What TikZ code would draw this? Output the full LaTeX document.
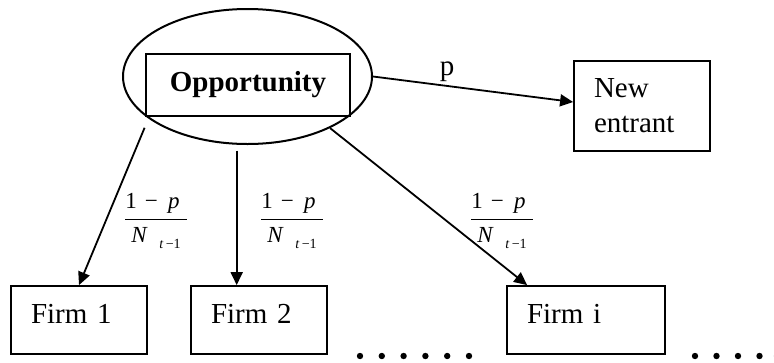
\documentclass[tikz,border=0pt]{standalone}
\usepackage{amsmath}
\usepackage{fontspec}
\setmainfont{Liberation Serif}
\usetikzlibrary{arrows.meta,calc,positioning,shapes.geometric}
\newcommand{\fracshare}{$\dfrac{\text{1\hspace{0.35em}−\hspace{0.45em}\textit{p}\hspace{0.3em}}}{\text{\textit{N}\hspace{0.5em}\raisebox{-0.25em}{\fontsize{14}{14}\selectfont\textit{t}\,−1}}}$}

\begin{document}
\begin{tikzpicture}[
    x=1pt,y=-1pt,
    >={Triangle[length=13pt,width=12pt]},
    font=\fontsize{29}{35}\selectfont,
    chance/.style={
      ellipse,draw,line width=2pt,inner sep=0pt,
      minimum width=249pt,minimum height=135pt
    },
    title/.style={
      rectangle,draw,line width=1.8pt,
      minimum width=204pt,minimum height=62pt,font=\fontsize{29}{35}\selectfont\bfseries
    },
    firm/.style={
      rectangle,draw,line width=1.8pt,inner xsep=20pt,align=left,
      minimum height=68pt,text height=20pt,text depth=13pt
    },
    entry/.style={
      rectangle,draw,line width=1.8pt,inner xsep=20pt,align=left,
      text width=96pt,minimum height=90pt
    },
    share/.style={inner sep=0pt,font=\fontsize{23}{27}\selectfont},
    link/.style={->,line width=1.8pt}
  ]
    \useasboundingbox (0,0) rectangle (774,362);
    \node[chance] (opp) at (247.5,76.5) {};
    \node[title] (oppbox) at (248,85) {Opportunity};
    \node[entry] (new) at (642,106) {New\\entrant};
    \node[firm,text width=96pt] (firm1) at (79,320) {Firm 1};
    \node[firm,text width=96pt] (firm2) at (259,320) {Firm 2};
    \node[firm,text width=118pt] (firmi) at (586,320) {Firm i};

    \draw[link] (opp.east) -- node[pos=.37,above=3pt,inner sep=0pt] (prob) {p} ($(new.west)+(0,-4)$);
    \draw[link,shorten <=10pt] (opp.203) -- (firm1.north);
    \draw[link,shorten <=6pt] (opp.261) -- (opp.261 |- firm2.north);
    \draw[link] (opp.328) -- ($(firmi.north west)+(21,0)$);

    \node[share] (q1) at (156,221) {\fracshare};
    \node[share] (q2) at (292,221) {\fracshare};
    \node[share] (qi) at (502,221) {\fracshare};

    % dots between the firms
    \foreach \x in {360,381.8,403.6,425.4,447.2,469}
      \fill (\x,356) circle (3.2pt);
    \foreach \x in {695,716.5,738,759.5,777}
      \fill (\x,356) circle (3.2pt);
  \end{tikzpicture}
\end{document}
